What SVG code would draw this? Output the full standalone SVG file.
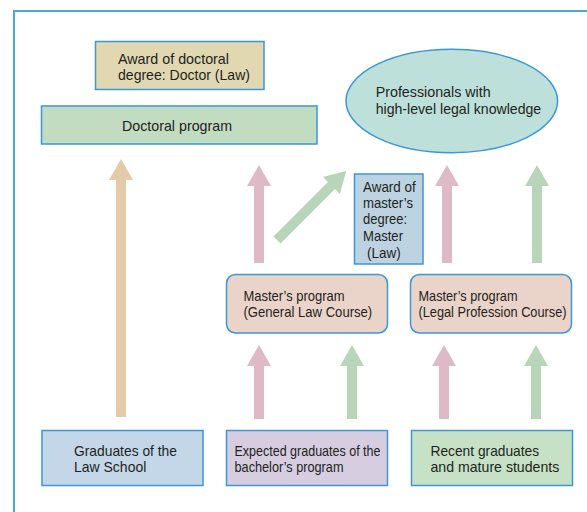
<svg xmlns="http://www.w3.org/2000/svg" width="587" height="512" viewBox="0 0 587 512">
<style>
.t{font-family:"Liberation Sans",Arial,sans-serif;font-size:15px;fill:#231f20}
.b{stroke:#3a98d6;stroke-width:1.5}
.pink{fill:#dfbac6}
.green{fill:#b9d5b9}
.tan{fill:#e3cba9}
</style>
<path d="M14,512 V11 H587" fill="none" stroke="#4aa8dc" stroke-width="2"/>

<g id="connectors">
<path class="tan" d="M121,159 L133,180 L126,180 L126,417 L116,417 L116,180 L109,180 Z"/>
<path class="pink" d="M259,165 L271,186 L264,186 L264,263 L254,263 L254,186 L247,186 Z"/>
<path class="pink" d="M447,165 L459,186 L452,186 L452,263 L442,263 L442,186 L435,186 Z"/>
<path class="green" d="M537,165 L549,186 L542,186 L542,263 L532,263 L532,186 L525,186 Z"/>
<path class="green" transform="translate(277,240) rotate(45)" d="M0,-98 L12,-77 L5,-77 L5,0 L-5,0 L-5,-77 L-12,-77 Z"/>
<path class="pink" d="M259,345 L271,366 L264,366 L264,419 L254,419 L254,366 L247,366 Z"/>
<path class="green" d="M352,345 L364,366 L357,366 L357,419 L347,419 L347,366 L340,366 Z"/>
<path class="pink" d="M444,345 L456,366 L449,366 L449,419 L439,419 L439,366 L432,366 Z"/>
<path class="green" d="M536,345 L548,366 L541,366 L541,419 L531,419 L531,366 L524,366 Z"/>
</g>

<g id="doctor-award">
<rect class="b" x="95.5" y="41.5" width="168.5" height="48" fill="#e1d8b1"/>
<text class="t" x="118" y="63.5" textLength="111" lengthAdjust="spacingAndGlyphs">Award of doctoral</text>
<text class="t" x="118" y="80" textLength="132" lengthAdjust="spacingAndGlyphs">degree: Doctor (Law)</text>
</g>

<g id="doctoral-program">
<rect class="b" x="41.5" y="106" width="275.5" height="38" fill="#c2dcc2"/>
<text class="t" x="122" y="131" textLength="110" lengthAdjust="spacingAndGlyphs">Doctoral program</text>
</g>

<g id="professionals">
<ellipse class="b" cx="451.8" cy="101" rx="105.8" ry="51.7" fill="#bde0da"/>
<text class="t" x="375.7" y="97.3" textLength="115" lengthAdjust="spacingAndGlyphs">Professionals with</text>
<text class="t" x="375.7" y="113.5" textLength="165.5" lengthAdjust="spacingAndGlyphs">high-level legal knowledge</text>
</g>

<g id="master-award">
<rect class="b" x="354.5" y="174" width="68.5" height="90" fill="#bdd3e1"/>
<text class="t" x="363" y="192" textLength="52.7" lengthAdjust="spacingAndGlyphs">Award of</text>
<text class="t" x="363" y="208" textLength="50" lengthAdjust="spacingAndGlyphs">master’s</text>
<text class="t" x="363" y="224" textLength="44" lengthAdjust="spacingAndGlyphs">degree:</text>
<text class="t" x="363" y="241" textLength="40" lengthAdjust="spacingAndGlyphs">Master</text>
<text class="t" x="367" y="257.5" textLength="33.7" lengthAdjust="spacingAndGlyphs">(Law)</text>
</g>

<g id="master-general">
<rect class="b" x="226.5" y="274.5" width="161" height="58.5" rx="9" fill="#ead3c8"/>
<text class="t" x="243.5" y="301" textLength="101" lengthAdjust="spacingAndGlyphs">Master’s program</text>
<text class="t" x="243.5" y="317" textLength="128.7" lengthAdjust="spacingAndGlyphs">(General Law Course)</text>
</g>

<g id="master-legal">
<rect class="b" x="410.5" y="274.5" width="161" height="58.5" rx="9" fill="#ead3c8"/>
<text class="t" x="418.5" y="301" textLength="99" lengthAdjust="spacingAndGlyphs">Master’s program</text>
<text class="t" transform="translate(418.5,317) scale(0.85,1)" x="0" y="0">(Legal Profession Course)</text>
</g>

<g id="grad-law">
<rect class="b" x="42" y="430.5" width="161" height="55" fill="#c3d7e9"/>
<text class="t" x="74" y="455.5" textLength="103" lengthAdjust="spacingAndGlyphs">Graduates of the</text>
<text class="t" x="74" y="471.5" textLength="72.3" lengthAdjust="spacingAndGlyphs">Law School</text>
</g>

<g id="expected">
<rect class="b" x="226.5" y="430.5" width="161" height="55" fill="#d6cde1"/>
<text class="t" x="234.5" y="455.5" textLength="146" lengthAdjust="spacingAndGlyphs">Expected graduates of the</text>
<text class="t" x="234.5" y="471.5" textLength="109" lengthAdjust="spacingAndGlyphs">bachelor’s program</text>
</g>

<g id="recent">
<rect class="b" x="411.5" y="430.5" width="161" height="55" fill="#c6e1c6"/>
<text class="t" x="430.5" y="455.5" textLength="108.6" lengthAdjust="spacingAndGlyphs">Recent graduates</text>
<text class="t" x="430.5" y="471.5" textLength="128.8" lengthAdjust="spacingAndGlyphs">and mature students</text>
</g>
</svg>
